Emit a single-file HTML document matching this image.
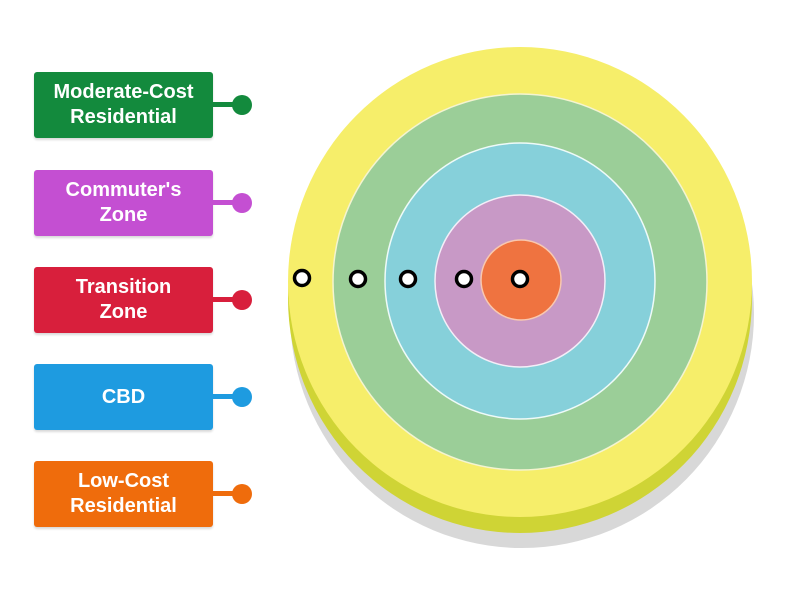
<!DOCTYPE html>
<html><head><style>
body{margin:0;width:800px;height:600px;background:#fff;position:relative;overflow:hidden;font-family:"Liberation Sans","DejaVu Sans",sans-serif}
.b{position:absolute;left:34px;width:179px;height:66px;border-radius:3px;color:#fff;font-weight:bold;font-size:20px;line-height:25px;display:flex;align-items:center;justify-content:center;text-align:center;box-shadow:0 2px 2px rgba(0,0,0,.15)}
.l{position:absolute;left:212px;width:24px;height:5px}
.d{position:absolute;left:232px;width:20px;height:20px;border-radius:50%}
</style></head><body>
<svg width="800" height="600" style="position:absolute;left:0;top:0">
<ellipse cx="522" cy="314" rx="232" ry="234" fill="#d8d8d8"/>
<ellipse cx="520" cy="298" rx="232" ry="235" fill="#cfd435"/>
<ellipse cx="520" cy="282" rx="232" ry="235" fill="#f6ee6a"/>
<ellipse cx="520" cy="282" rx="187" ry="188" fill="#9bce98" stroke="#f4f4d0" stroke-width="1.5"/>
<ellipse cx="520" cy="281" rx="135" ry="138" fill="#86d0da" stroke="#eefaf8" stroke-width="1.5"/>
<ellipse cx="520" cy="281" rx="85" ry="86" fill="#c899c6" stroke="#f4eef8" stroke-width="1.5"/>
<ellipse cx="521" cy="280" rx="40" ry="40" fill="#ef7340" stroke="#f8c8b0" stroke-width="1.5"/>
<g fill="#fff" stroke="#000" stroke-width="3.5">
<circle cx="302" cy="278" r="7.5"/><circle cx="358" cy="279" r="7.5"/><circle cx="408" cy="279" r="7.5"/><circle cx="464" cy="279" r="7.5"/><circle cx="520" cy="279" r="7.5"/>
</g>
</svg>
<div class="b" style="top:72px;background:#138a3d">Moderate-Cost<br>Residential</div>
<div class="l" style="top:102px;background:#138a3d"></div><div class="d" style="top:95px;background:#138a3d"></div>
<div class="b" style="top:170px;background:#c44fd2">Commuter's<br>Zone</div>
<div class="l" style="top:200px;background:#c44fd2"></div><div class="d" style="top:193px;background:#c44fd2"></div>
<div class="b" style="top:267px;background:#d81f3c">Transition<br>Zone</div>
<div class="l" style="top:297px;background:#d81f3c"></div><div class="d" style="top:290px;background:#d81f3c"></div>
<div class="b" style="top:364px;background:#1e9be0">CBD</div>
<div class="l" style="top:394px;background:#1e9be0"></div><div class="d" style="top:387px;background:#1e9be0"></div>
<div class="b" style="top:461px;background:#ef6c0c">Low-Cost<br>Residential</div>
<div class="l" style="top:491px;background:#ef6c0c"></div><div class="d" style="top:484px;background:#ef6c0c"></div>
</body></html>
